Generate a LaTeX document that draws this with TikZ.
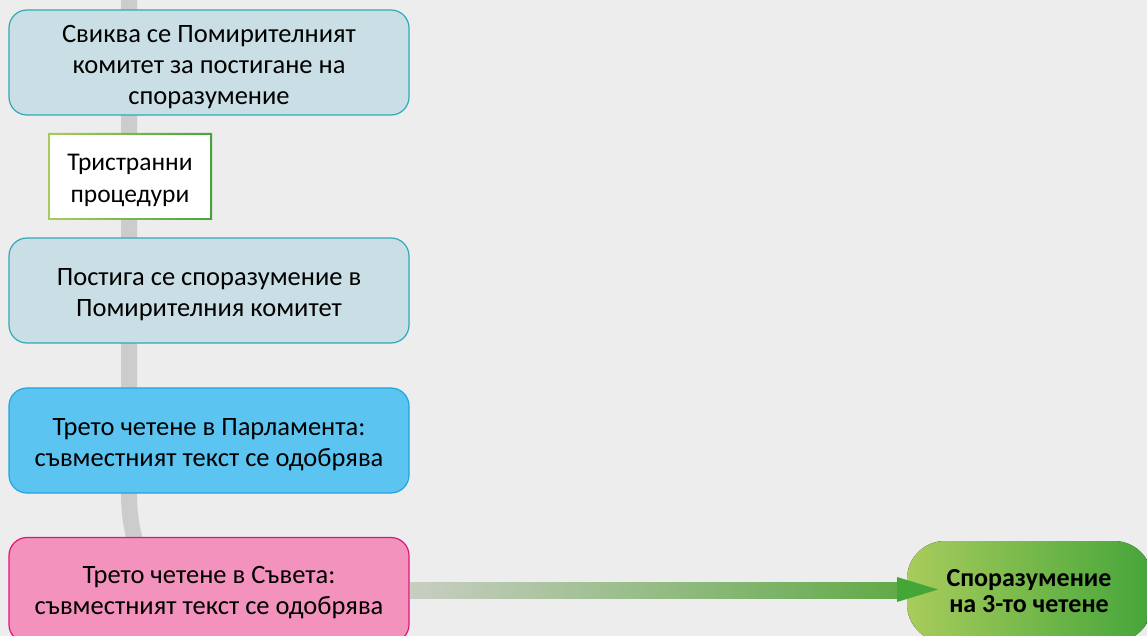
\documentclass[tikz,border=0pt]{standalone}
\usepackage{fontspec}
\setmainfont{Carlito}
\begin{document}
\begin{tikzpicture}[x=1pt,y=-1pt,
  stepbox/.style={draw, line width=1.2pt, rounded corners=18pt, minimum width=400pt, minimum height=105pt, inner sep=0pt},
  steptext/.style={align=center, text=black, font=\fontsize{26.5}{31}\selectfont, inner sep=0pt},
  tealbox/.style={stepbox, fill=boxteal, draw=edgeteal},
  bluebox/.style={stepbox, fill=boxblue, draw=edgeblue},
  pinkbox/.style={stepbox, fill=boxpink, draw=edgepink},
  spine/.style={line width=16pt, draw=spinegray}
]
\definecolor{bg}{HTML}{EDEDED}
\definecolor{boxteal}{HTML}{C9DFE5}
\definecolor{edgeteal}{HTML}{30A8B6}
\definecolor{boxblue}{HTML}{5BC4F1}
\definecolor{edgeblue}{HTML}{22A5DD}
\definecolor{boxpink}{HTML}{F292BD}
\definecolor{edgepink}{HTML}{E0157C}
\definecolor{spinegray}{HTML}{CCCCCC}
\definecolor{lgreen}{HTML}{A8CC5C}
\definecolor{dgreen}{HTML}{45A53A}
\definecolor{shaftleft}{HTML}{C8CEC2}
\definecolor{shaftright}{HTML}{62AA48}
\definecolor{headgreen}{HTML}{43A636}
\useasboundingbox (0,0) rectangle (1147,636);
\clip (0,0) rectangle (1147,636);
\fill[bg] (0,0) rectangle (1147,636);

% spine
\coordinate (top) at (129,0);
\coordinate (bend) at (129,493);
\coordinate (foot) at (137,548);
\draw[spine] (top) -- (bend) .. controls (129,516) and (132,530) .. (foot);

% boxes
\node[tealbox] (b1) at (209,62.5) {};
\node[steptext] (t1) at (209,67) {Свиква се Помирителният\\комитет за постигане на\\споразумение};
\shade[left color=lgreen, right color=dgreen, even odd rule]
  (48,133) rectangle (212,220) (50.4,135.4) rectangle (209.6,217.6);
\fill[white] (50.4,135.4) rectangle (209.6,217.6);
\node[steptext, font=\fontsize{25.5}{32}\selectfont] (tri) at (130,180.5) {Тристранни\\процедури};
\node[tealbox] (b3) at (209,290.5) {};
\node[steptext] (t3) at (209,294.5) {Постига се споразумение в\\Помирителния комитет};
\node[bluebox] (b4) at (209,440.5) {};
\node[steptext] (t4) at (209,445) {Трето четене в Парламента:\\съвместният текст се одобрява};
\node[pinkbox] (b5) at (209,590) {};
\node[steptext] (t5) at (209,593) {Трето четене в Съвета:\\съвместният текст се одобрява};

% final node
\fill[left color=lgreen, right color=dgreen, rounded corners=38pt] (907,541) rectangle (1152,642);
\node[align=center, font=\fontsize{26}{26}\bfseries\selectfont, inner sep=0pt] (fin) at (1029,591.5) {Споразумение\\на 3-то четене};

% arrow
\shade[left color=shaftleft, right color=shaftright] ([xshift=0.6pt]b5.east |- 0,582) rectangle (898,598);
\coordinate (tip) at (938,589.5);
\fill[headgreen] (897,577) -- (tip) -- (897,602) -- cycle;
\end{tikzpicture}
\end{document}
